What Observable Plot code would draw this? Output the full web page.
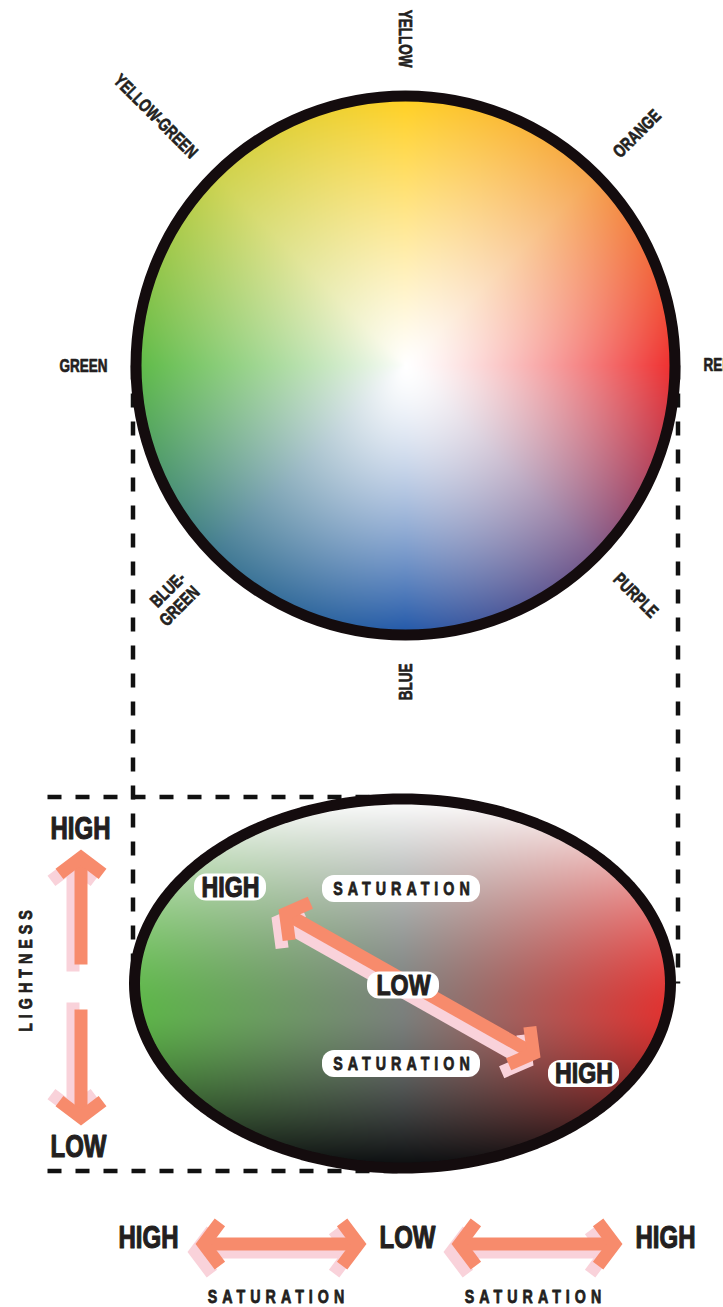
<!DOCTYPE html>
<html><head><meta charset="utf-8">
<script src="https://cdn.jsdelivr.net/npm/d3@7"></script>
<script src="https://cdn.jsdelivr.net/npm/@observablehq/plot@0.6"></script>
<style>
html,body{margin:0;padding:0;background:#fff;}
#chart svg{display:block;}
</style></head><body><div id="chart"></div>
<script>
const W = 723, H = 1307;

// ---- Data: the hue wheel (angle clockwise from top) ----
const hueNames  = ["YELLOW", "ORANGE", "RED", "PURPLE", "BLUE", "BLUE-\nGREEN", "GREEN", "YELLOW-GREEN"];
const hueAngles = [0, 45, 90, 135, 180, 225, 270, 315];
const hueColors = ["#FFCF1F", "#F5A24A", "#EE2B2B", "#7C5A8A", "#1E55A7", "#3E7890", "#5DBA46", "#CDD24C"];
// how quickly each hue fades to white towards the centre
const hueFade   = [1.15, 1.15, 1.3, 1.35, 1.55, 1.1, 0.8, 0.9];

// ---- Data: side view (saturation left/right, lightness top/bottom) ----
const sideHues   = ["GREEN", "RED"];
const sideColors = ["#5DB748", "#E3312F"];
const sideGray   = "#7B807D";

// ---- Labels ----
const bigLabels   = ["HIGH", "LOW", "HIGH", "LOW", "HIGH"];
const pillLabels  = ["HIGH", "SATURATION", "LOW", "SATURATION", "HIGH"];
const axisLabels  = ["LIGHTNESS", "SATURATION", "SATURATION"];

// ---- Layout (pixel space, mapped through identity-like linear scales) ----
const wheel = {cx: 405, cy: 365, r: 269.5, labelR: 298};
const disk  = {cx: 402, cy: 983, rx: 268, ry: 184.5};
const bigPos  = [[80, 828], [78, 1146], [148, 1237.5], [407, 1237.5], [665, 1237.5]];
const pillPos = [[230, 887, 72], [401, 888.5, 158], [403, 985, 72], [401, 1063.5, 158], [583.5, 1073.5, 71]];
const axisPos = [[25, 968, -90], [278, 1296.5, 0], [535, 1296.5, 0]];
const arrowDefs = [
  {x1: 80.5, y1: 964, x2: 80.5, y2: 849, both: false, off: [-8, 7]},
  {x1: 80.5, y1: 1009, x2: 80.5, y2: 1125, both: false, off: [-8, -7]},
  {x1: 195, y1: 1243.5, x2: 366, y2: 1243.5, both: true, off: [-8, 8]},
  {x1: 451, y1: 1243.5, x2: 622, y2: 1243.5, both: true, off: [-8, 8]},
  {x1: 278, y1: 909, x2: 540, y2: 1057, both: true, off: [-7, 8]}
];

const ink = "#231F20", rim = "#140C0E", arrowColor = "#F78B6C", shadowColor = "#F9D2DA";
const FONT = '"Liberation Sans", Arial, Helvetica, sans-serif';

// ---- colour functions ----
const rgbOf = c => { const o = d3.rgb(c); return [o.r, o.g, o.b]; };
const HC = hueColors.map(rgbOf);
const SC = sideColors.map(rgbOf);
const SG = rgbOf(sideGray);
const fadeAt = d3.interpolateBasisClosed(hueFade);
const mix = (a, b, t) => [a[0] + (b[0] - a[0]) * t, a[1] + (b[1] - a[1]) * t, a[2] + (b[2] - a[2]) * t];
const css = c => `rgb(${Math.round(c[0])},${Math.round(c[1])},${Math.round(c[2])})`;
const WHITE = [255, 255, 255], BLACK = [8, 10, 12];

function wheelColor(x, y) {
  const dx = x - wheel.cx, dy = y - wheel.cy;
  const r = Math.hypot(dx, dy) / (wheel.r + 1);
  if (r > 1) return null;
  let a = Math.atan2(dx, -dy) * 180 / Math.PI; if (a < 0) a += 360;
  const i = Math.floor(a / 45) % 8, j = (i + 1) % 8, f = (a - i * 45) / 45;
  const hue = mix(HC[i], HC[j], f);
  return css(mix(WHITE, hue, Math.pow(r, fadeAt(a / 360))));
}
function diskColor(x, y) {
  const u = (x - disk.cx) / (disk.rx + 1), v = (y - disk.cy) / (disk.ry + 1);
  if (u * u + v * v > 1) return null;
  const base = mix(SG, SC[u < 0 ? 0 : 1], Math.min(1, Math.abs(u)));
  const v0 = 0.15;
  if (v < v0) return css(mix(base, WHITE, Math.pow((v0 - v) / (1 + v0), 1.5)));
  return css(mix(base, BLACK, Math.pow((v - v0) / (1 - v0), 1.4)));
}

// ---- derived geometry ----
const wheelLabels = hueNames.map((name, i) => {
  const a = hueAngles[i], t = a * Math.PI / 180;
  const outward = a > 0 && a < 180;
  const R = wheel.labelR + (name.includes("\n") ? 8 : 0);
  return {name, outward, x: wheel.cx + R * Math.sin(t), y: wheel.cy - R * Math.cos(t),
          rotate: outward ? a - 90 : ((a + 90) % 360 > 180 ? (a + 90) % 360 - 360 : (a + 90) % 360)};
});

const guides = [
  {id: "l", pts: [[wheel.cx - wheel.r - 3, wheel.cy], [wheel.cx - wheel.r - 3, disk.cy]]},
  {id: "r", pts: [[wheel.cx + wheel.r + 3, wheel.cy], [wheel.cx + wheel.r + 3, disk.cy]]},
  {id: "t", pts: [[47, disk.cy - disk.ry - 2], [disk.cx, disk.cy - disk.ry - 2]]},
  {id: "b", pts: [[47, disk.cy + disk.ry + 3], [disk.cx, disk.cy + disk.ry + 3]]}
].flatMap(g => g.pts.map(([x, y]) => ({x, y, id: g.id})));

const ellipsePts = d3.range(0, 360, 2).map(t => ({
  x: disk.cx + disk.rx * Math.cos(t * Math.PI / 180),
  y: disk.cy + disk.ry * Math.sin(t * Math.PI / 180)
}));

const SW = 13, HA = 53 * Math.PI / 180, ARM = 27;
function arrowRows(a, k, withOffset) {
  const [ox, oy] = withOffset ? a.off : [0, 0];
  const len = Math.hypot(a.x2 - a.x1, a.y2 - a.y1);
  const ux = (a.x2 - a.x1) / len, uy = (a.y2 - a.y1) / len;
  const m = (SW / 2) / Math.sin(HA);
  const polys = [];
  polys.push([a.both ? [a.x1 + ux * m, a.y1 + uy * m] : [a.x1, a.y1], [a.x2 - ux * m, a.y2 - uy * m]]);
  const heads = [[a.x2, a.y2, ux, uy]];
  if (a.both) heads.push([a.x1, a.y1, -ux, -uy]);
  for (const [tx, ty, dx, dy] of heads) {
    const vx = tx - dx * m, vy = ty - dy * m;
    const wing = sgn => {
      const c = Math.cos(HA), s = Math.sin(HA) * sgn, bx = -dx, by = -dy;
      return [vx + (bx * c - by * s) * ARM, vy + (bx * s + by * c) * ARM];
    };
    polys.push([wing(1), [vx, vy], wing(-1)]);
  }
  return polys.flatMap((p, j) => p.map(([x, y]) => ({x: x + ox, y: y + oy, z: `${k}-${j}`})));
}
const arrowLines = arrowDefs.flatMap((a, k) => arrowRows(a, k, false));
const shadowLines = arrowDefs.flatMap((a, k) => arrowRows(a, k, true));

const pills = pillLabels.map((text, i) => ({text, x: pillPos[i][0], y: pillPos[i][1], w: pillPos[i][2], h: 27}));
const bigs = bigLabels.map((text, i) => ({text, x: bigPos[i][0], y: bigPos[i][1]}));
const axes = axisLabels.map((text, i) => ({text, x: axisPos[i][0], y: axisPos[i][1], rotate: axisPos[i][2]}));

const lineOpts = {x: "x", y: "y", z: "z", strokeWidth: SW, strokeLinejoin: "miter", strokeLinecap: "butt", strokeMiterlimit: 10};
const txt = {fontWeight: "bold", fill: ink, stroke: ink, strokeLinejoin: "round", lineAnchor: "middle", fontFamily: FONT};

const svg = Plot.plot({
  width: W, height: H, margin: 0,
  x: {domain: [0, W], range: [0, W], axis: null},
  y: {domain: [0, H], range: [0, H], axis: null},
  color: {type: "identity"},
  style: {background: "#fff", fontFamily: FONT},
  marks: [
    Plot.line(guides, {x: "x", y: "y", z: "id", stroke: "#111", strokeWidth: 4.5, strokeDasharray: "14,14", strokeLinecap: "butt"}),
    Plot.raster({x1: wheel.cx - wheel.r - 6, x2: wheel.cx + wheel.r + 6, y1: wheel.cy - wheel.r - 6, y2: wheel.cy + wheel.r + 6, fill: wheelColor, pixelSize: 1}),
    Plot.dot([wheel], {x: "cx", y: "cy", r: wheel.r, stroke: rim, strokeWidth: 11, fill: "none"}),
    Plot.raster({x1: disk.cx - disk.rx - 6, x2: disk.cx + disk.rx + 6, y1: disk.cy - disk.ry - 6, y2: disk.cy + disk.ry + 6, fill: diskColor, pixelSize: 1}),
    Plot.line(ellipsePts, {x: "x", y: "y", curve: "linear-closed", stroke: rim, strokeWidth: 11}),
    Plot.text(wheelLabels.filter(d => d.outward), {...txt, x: "x", y: "y", text: "name", rotate: "rotate", textAnchor: "start", fontSize: 18, strokeWidth: 0.7, ariaDescription: "c75"}),
    Plot.text(wheelLabels.filter(d => !d.outward), {...txt, x: "x", y: "y", text: "name", rotate: "rotate", textAnchor: "end", lineHeight: 1.1, fontSize: 18, strokeWidth: 0.7, ariaDescription: "c75"}),
    Plot.line(shadowLines, {...lineOpts, stroke: shadowColor}),
    Plot.line(arrowLines, {...lineOpts, stroke: arrowColor}),
    Plot.rect(pills, {x1: d => d.x - d.w / 2, x2: d => d.x + d.w / 2, y1: d => d.y - d.h / 2, y2: d => d.y + d.h / 2, fill: "#fff", rx: 12}),
    Plot.text(pills.filter(d => d.text !== "SATURATION"), {...txt, x: "x", y: "y", text: "text", fontSize: 29, strokeWidth: 1.1, ariaDescription: "c80"}),
    Plot.text(pills.filter(d => d.text === "SATURATION"), {...txt, x: d => d.x + 2.5, y: "y", text: "text", fontSize: 19, strokeWidth: 0.8, ariaDescription: "spaced"}),
    Plot.text(bigs, {...txt, x: "x", y: "y", text: "text", fontSize: 32, strokeWidth: 1.2, ariaDescription: "c75"}),
    Plot.text(axes, {...txt, x: "x", y: "y", text: "text", rotate: "rotate", fontSize: 19, strokeWidth: 0.8, ariaDescription: "spaced"})
  ]
});

// condensed type (Helvetica Condensed look): squeeze each text horizontally in its own frame
function condense(sel, k, spacing) {
  svg.querySelectorAll(sel).forEach(t => {
    let tr = t.getAttribute("transform") || "";
    const x = t.getAttribute("x");
    if (x != null && isFinite(+x) && +x !== 0) { tr += ` translate(${+x},0)`; t.removeAttribute("x"); }
    t.setAttribute("transform", (tr + ` scale(${k},1)`).trim());
    if (spacing) t.style.letterSpacing = spacing + "px";
  });
}
condense('g[aria-description="c75"] text', 0.75);
condense('g[aria-description="c80"] text', 0.8);
condense('g[aria-description="spaced"] text', 0.75, 6.7);
document.getElementById("chart").appendChild(svg);
</script>
</body></html>
